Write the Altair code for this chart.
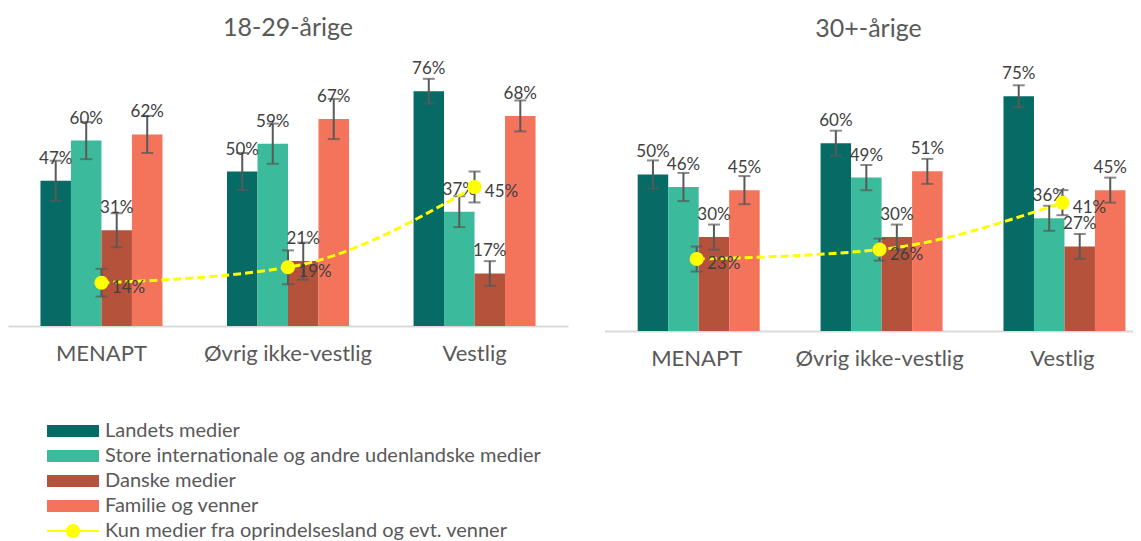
import altair as alt
import pandas as pd

groups = ["MENAPT", "Øvrig ikke-vestlig", "Vestlig"]
panel_titles = ["18-29-årige", "30+-årige"]
series = [
    "Landets medier",
    "Store internationale og andre udenlandske medier",
    "Danske medier",
    "Familie og venner",
]
line_name = "Kun medier fra oprindelsesland og evt. venner"

# 18-29-årige
young_landets = [47, 50, 76]
young_store = [60, 59, 37]
young_danske = [31, 21, 17]
young_familie = [62, 67, 68]
young_kun = [14, 19, 45]
young_landets_err = [6.5, 6, 4]
young_store_err = [6, 6.5, 5]
young_danske_err = [5.5, 6, 4]
young_familie_err = [6, 6.5, 5]
young_kun_err = [4.5, 5.5, 5]

# 30+-årige
old_landets = [50, 60, 75]
old_store = [46, 49, 36]
old_danske = [30, 30, 27]
old_familie = [45, 51, 45]
old_kun = [23, 26, 41]
old_landets_err = [4.5, 4, 3.5]
old_store_err = [4.5, 4, 4]
old_danske_err = [4, 4, 4]
old_familie_err = [4.5, 4, 4]
old_kun_err = [4, 3.5, 4]

colors = ["#056B64", "#3BBB9B", "#B5523C", "#F3735B"]
yellow = "#FFFF00"
FONT = "Lato"
TXT = "#595959"


def bar_frame(vals, errs):
    rows = []
    for s, v, e in zip(series, vals, errs):
        for g, vi, ei in zip(groups, v, e):
            rows.append({"group": g, "series": s, "value": vi, "lo": vi - ei,
                         "hi": vi + ei, "label": f"{vi}%"})
    return pd.DataFrame(rows)


def line_frame(v, e):
    return pd.DataFrame([{"group": g, "series": line_name, "value": vi, "lo": vi - ei,
                          "hi": vi + ei, "label": f"{vi}%"} for g, vi, ei in zip(groups, v, e)])


young_bars = bar_frame([young_landets, young_store, young_danske, young_familie],
                       [young_landets_err, young_store_err, young_danske_err, young_familie_err])
young_line = line_frame(young_kun, young_kun_err)
old_bars = bar_frame([old_landets, old_store, old_danske, old_familie],
                     [old_landets_err, old_store_err, old_danske_err, old_familie_err])
old_line = line_frame(old_kun, old_kun_err)

rect_path = "M-1,-0.23H1V0.23H-1Z"
line_dot_path = ("M-1,-0.04H-0.26V0.04H-1Z M0.26,-0.04H1V0.04H0.26Z "
                 "M-0.27,0A0.27,0.27 0 1,1 0.27,0A0.27,0.27 0 1,1 -0.27,0Z")

legend_common = dict(
    title=None, orient="none", legendX=39,
    symbolSize=2704, clipHeight=14, rowPadding=5, symbolStrokeWidth=0,
    labelFont=FONT, labelFontSize=20, labelColor=TXT, labelOffset=6, labelLimit=700,
)

LEG_Y = 360
color = alt.Color("series:N", scale=alt.Scale(domain=series, range=colors),
                  legend=alt.Legend(legendY=LEG_Y, symbolType=rect_path, **legend_common))
fill_line = alt.Fill("series:N", scale=alt.Scale(domain=[line_name], range=[yellow]),
                     legend=alt.Legend(legendY=LEG_Y + 100, symbolType=line_dot_path,
                                       symbolFillColor=yellow, **legend_common))


def panel(title, bars, line, width, height, ymax, pin, pout, align, toff):
    x = alt.X("group:N", sort=groups,
              scale=alt.Scale(paddingInner=pin, paddingOuter=pout, align=align),
              axis=alt.Axis(title=None, labelAngle=0, ticks=False, domainColor="#D9D9D9",
                            domainWidth=2, labelFontSize=22, labelColor=TXT, labelPadding=17,
                            labelFont=FONT))
    ysc = alt.Scale(domain=[0, ymax], nice=False, zero=True)
    y = alt.Y("value:Q", scale=ysc, axis=None)
    ylo = alt.Y("lo:Q", scale=ysc, axis=None)
    yhi = alt.Y("hi:Q", scale=ysc, axis=None)
    xo = alt.XOffset("series:N", sort=series, scale=alt.Scale(domain=series))

    b = alt.Chart(bars)
    l = alt.Chart(line)
    bar = b.mark_bar().encode(x=x, xOffset=xo, y=y, color=color)
    berr = b.mark_rule(color="#595959", strokeWidth=2).encode(x=x, xOffset=xo, y=ylo, y2="hi:Q")
    bcap1 = b.mark_tick(color="#595959", thickness=2, size=12).encode(x=x, xOffset=xo, y=ylo)
    bcap2 = b.mark_tick(color="#595959", thickness=2, size=12).encode(x=x, xOffset=xo, y=yhi)
    blab = b.mark_text(dy=-22, fontSize=17, font=FONT, color="#404040").encode(
        x=x, xOffset=xo, y=y, text="label:N")
    ln = l.mark_line(color=yellow, strokeDash=[8, 4], strokeWidth=3,
                     interpolate="monotone").encode(x=x, y=y)
    lerr = l.mark_rule(color="#595959", strokeWidth=2).encode(x=x, y=ylo, y2="hi:Q")
    lcap1 = l.mark_tick(color="#595959", thickness=2, size=12).encode(x=x, y=ylo)
    lcap2 = l.mark_tick(color="#595959", thickness=2, size=12).encode(x=x, y=yhi)
    pts = l.mark_circle(size=200, opacity=1).encode(x=x, y=y, fill=fill_line)
    llab = l.mark_text(dx=27, dy=5, fontSize=17, font=FONT, color="#404040").encode(
        x=x, y=y, text="label:N")
    return alt.layer(bar, berr, bcap1, bcap2, blab, ln, lerr, lcap1, lcap2, pts, llab).properties(
        width=width, height=height,
        title=alt.TitleParams(title, fontSize=25, font=FONT, color=TXT, fontWeight="normal",
                              anchor="middle", offset=toff),
    )


left = panel(panel_titles[0], young_bars, young_line, 560, 262, 84.8, 0.346, 0.174, 0.5, 19.5)
right = panel(panel_titles[1], old_bars, old_line, 528, 267, 85.3, 0.355, 0.121, 0.75, 22.5)

chart = alt.hconcat(left, right, spacing=36.5).properties(
    padding={"left": 0, "right": 0, "top": 7, "bottom": 0}
).configure_view(stroke=None)

chart.save("out.html", embed_options={"renderer": "svg", "actions": False})
